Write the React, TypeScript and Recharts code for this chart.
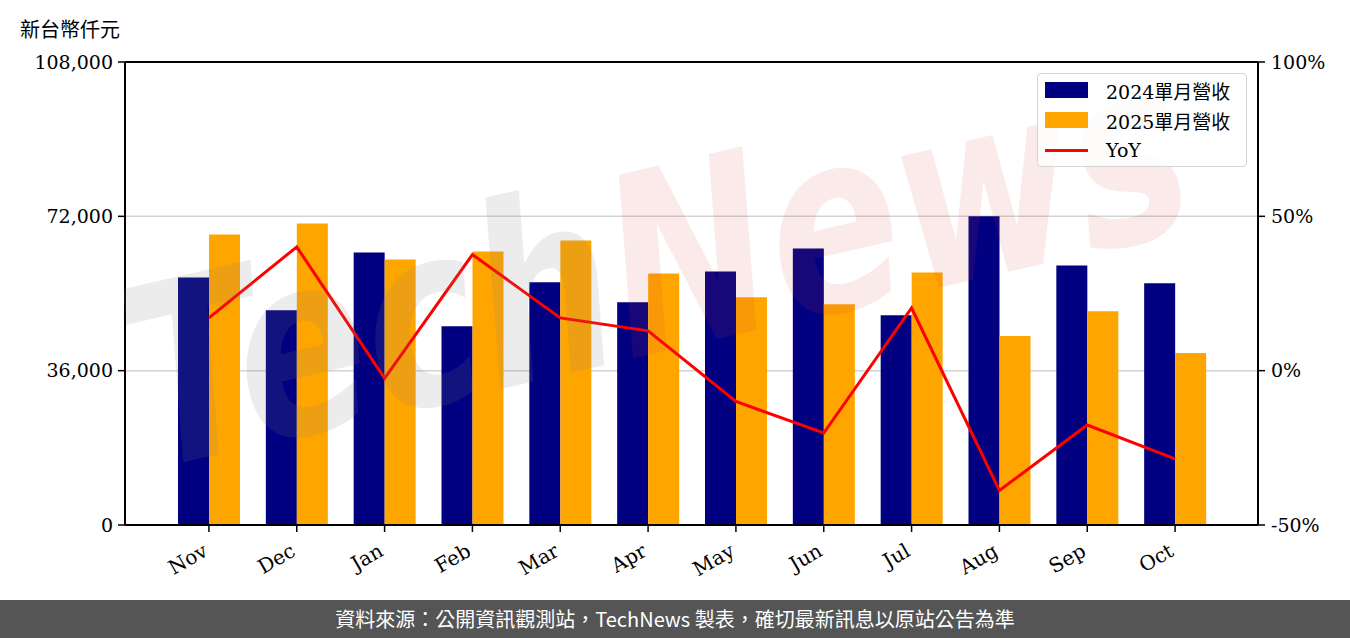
import React from 'react';
import {
  ComposedChart,
  Bar,
  Line,
  XAxis,
  YAxis,
  CartesianGrid,
  ReferenceLine,
} from 'recharts';

const months = ['Nov', 'Dec', 'Jan', 'Feb', 'Mar', 'Apr', 'May', 'Jun', 'Jul', 'Aug', 'Sep', 'Oct'];
const rev2024 = [57760, 50100, 63570, 46380, 56600, 51960, 59160, 64500, 48940, 72000, 60550, 56370];
const rev2025 = [67750, 70310, 61940, 63800, 66360, 58690, 53120, 51490, 58920, 44060, 49870, 40110];
const yoy = [17.1, 40.1, -2.5, 37.6, 17.1, 12.9, -10.0, -20.2, 20.3, -38.8, -17.6, -28.6];

const leftTicks = [0, 36000, 72000, 108000];
const rightTicks = [-50, 0, 50, 100];

const data = months.map((m, i) => ({
  month: m,
  rev2024: rev2024[i],
  rev2025: rev2025[i],
  yoy: yoy[i],
}));

const FONT = "'DejaVu Serif', 'Noto Sans CJK TC', serif";
const NAVY = '#000080';
const ORANGE = '#FFA500';
const RED = '#FF0000';

function MonthTick({ x, y, payload }: any) {
  return (
    <g transform={`translate(${x - 8},${y + 7}) rotate(-30)`}>
      <text x={0} y={0} dy={16} textAnchor="end" fill="#000" fontSize={20} fontFamily={FONT}>
        {payload.value}
      </text>
    </g>
  );
}

function LegendBox() {
  const rows = [
    { label: '2024單月營收', kind: 'bar', color: NAVY },
    { label: '2025單月營收', kind: 'bar', color: ORANGE },
    { label: 'YoY', kind: 'line', color: RED },
  ];
  return (
    <div
      style={{
        position: 'absolute',
        left: 1037,
        top: 73,
        width: 210,
        height: 94,
        border: '1.5px solid #d4d4d4',
        borderRadius: 4,
        background: 'rgba(255,255,255,0.8)',
        boxSizing: 'border-box',
        paddingTop: 1,
        fontFamily: FONT,
        fontSize: 19,
        color: '#000',
      }}
    >
      {rows.map((r) => (
        <div key={r.label} style={{ height: 30, display: 'flex', alignItems: 'center' }}>
          <div style={{ width: 7 }} />
          {r.kind === 'bar' ? (
            <div style={{ width: 43, height: 16, background: r.color }} />
          ) : (
            <div style={{ width: 43, height: 3, background: r.color }} />
          )}
          <div style={{ width: 18 }} />
          <span>{r.label}</span>
        </div>
      ))}
    </div>
  );
}

// faint brand mark drawn across the plot
function Watermark() {
  return (
    <svg
      width={1350}
      height={600}
      style={{ position: 'absolute', left: 0, top: 0, pointerEvents: 'none' }}
    >
      <g transform="translate(150,470) rotate(-13)">
        <text
          x={0}
          y={0}
          fontSize={250}
          fontStyle="italic"
          fontWeight="bold"
          fontFamily="'DejaVu Sans', sans-serif"
          textLength={1080}
          lengthAdjust="spacingAndGlyphs"
        >
          <tspan fill="#808080" fillOpacity={0.15}>Tech</tspan>
          <tspan fill="#d04040" fillOpacity={0.11}>News</tspan>
        </text>
      </g>
    </svg>
  );
}

export default function App() {
  return (
    <div
      style={{
        position: 'absolute',
        left: 0,
        top: 0,
        width: 1350,
        height: 638,
        background: '#fff',
        overflow: 'hidden',
      }}
    >
      <div
        style={{
          position: 'absolute',
          left: 20,
          top: 14,
          fontFamily: FONT,
          fontSize: 20,
          color: '#000',
        }}
      >
        新台幣仟元
      </div>
      <ComposedChart
        width={1350}
        height={600}
        data={data}
        margin={{ top: 62, right: 0, bottom: 0, left: 0 }}
        barGap={0}
        style={{ position: 'absolute', left: 0, top: 0 }}
      >
        <CartesianGrid vertical={false} stroke="#d3d3d3" strokeWidth={1.5} yAxisId="left" />
        <XAxis
          dataKey="month"
          height={75}
          padding={{ left: 40, right: 39 }}
          tickSize={7}
          tickLine={{ stroke: '#000', strokeWidth: 1.5 }}
          axisLine={{ stroke: '#000', strokeWidth: 2 }}
          tick={<MonthTick />}
          interval={0}
        />
        <YAxis
          yAxisId="left"
          orientation="left"
          width={125}
          domain={[0, 108000]}
          ticks={leftTicks}
          tickFormatter={(v: number) => v.toLocaleString('en-US')}
          tickSize={7}
          tickMargin={5}
          tickLine={{ stroke: '#000', strokeWidth: 1.5 }}
          axisLine={{ stroke: '#000', strokeWidth: 2 }}
          tick={{ fill: '#000', fontSize: 19, fontFamily: FONT }}
        />
        <YAxis
          yAxisId="right"
          orientation="right"
          width={92}
          domain={[-50, 100]}
          ticks={rightTicks}
          tickFormatter={(v: number) => `${v}%`}
          tickSize={7}
          tickMargin={6}
          tickLine={{ stroke: '#000', strokeWidth: 1.5 }}
          axisLine={{ stroke: '#000', strokeWidth: 2 }}
          tick={{ fill: '#000', fontSize: 19, fontFamily: FONT }}
        />
        <ReferenceLine yAxisId="left" y={108000} stroke="#000" strokeWidth={2} />
        <Bar yAxisId="left" dataKey="rev2024" name="2024單月營收" fill={NAVY} barSize={31} isAnimationActive={false} />
        <Bar yAxisId="left" dataKey="rev2025" name="2025單月營收" fill={ORANGE} barSize={31} isAnimationActive={false} />
        <Line
          yAxisId="right"
          dataKey="yoy"
          name="YoY"
          stroke={RED}
          strokeWidth={3}
          dot={false}
          type="linear"
          isAnimationActive={false}
        />
      </ComposedChart>
      <Watermark />
      <LegendBox />
      <div
        style={{
          position: 'absolute',
          left: 0,
          top: 600,
          width: 1350,
          height: 38,
          background: '#555555',
          color: '#fff',
          fontFamily: "'Noto Sans CJK TC', 'Noto Sans', sans-serif",
          fontSize: 20,
          lineHeight: '38px',
          textAlign: 'center',
        }}
      >
        資料來源：公開資訊觀測站，TechNews 製表，確切最新訊息以原站公告為準
      </div>
    </div>
  );
}
